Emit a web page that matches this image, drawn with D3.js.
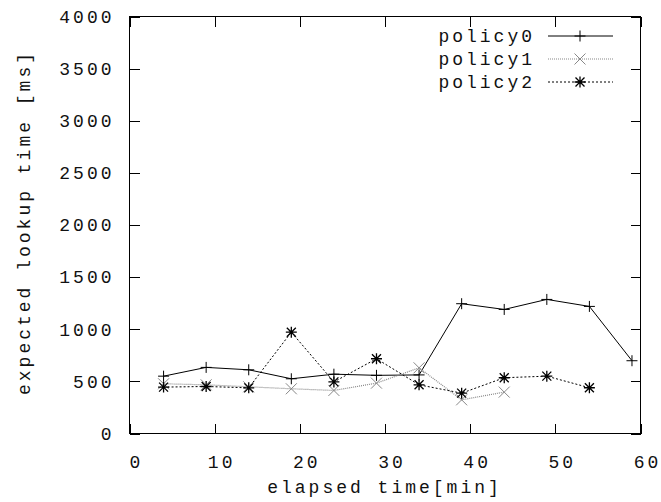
<!DOCTYPE html>
<html>
<head>
<meta charset="utf-8">
<script src="https://cdn.jsdelivr.net/npm/d3@7"></script>
<style>
html,body{margin:0;padding:0;background:#fff;}
svg text{font-family:"Liberation Mono",monospace;font-size:18px;letter-spacing:3px;fill:#111;}
</style>
</head>
<body>
<svg id="chart" width="661" height="502"></svg>
<script>
const xTicks = [0, 10, 20, 30, 40, 50, 60];
const yTicks = [0, 500, 1000, 1500, 2000, 2500, 3000, 3500, 4000];
const seriesNames = ["policy0", "policy1", "policy2"];
const x0 = [4, 9, 14, 19, 24, 29, 34, 39, 44, 49, 54, 59];
const y0 = [550, 634, 611, 525, 569, 558, 562, 1245, 1190, 1286, 1219, 698];
const x1 = [4, 9, 14, 19, 24, 29, 34, 39, 44];
const y1 = [477, 467, 448, 429, 413, 483, 630, 323, 397];
const x2 = [4, 9, 14, 19, 24, 29, 34, 39, 44, 49, 54];
const y2 = [445, 451, 438, 972, 495, 717, 467, 387, 535, 550, 439];
const xLabel = "elapsed time[min]";
const yLabel = "expected lookup time [ms]";

const LS = 3;
const svg = d3.select("#chart");
const L = 129.5, R = 640.5, T = 16.5, B = 433.5;
const x = d3.scaleLinear().domain([0, 60]).range([L, R]);
const y = d3.scaleLinear().domain([0, 4000]).range([B, T]);

// frame
svg.append("rect").attr("x", L).attr("y", T).attr("width", R - L).attr("height", B - T)
  .attr("fill", "none").attr("stroke", "#000").attr("stroke-width", 1);

// axes with inward ticks
const tl = 10;
svg.append("g").attr("class", "xb").attr("transform", `translate(0,${B})`)
  .call(d3.axisBottom(x).tickValues(xTicks).tickSize(-tl).tickPadding(tl + 12).tickFormat(d3.format("d")))
  .call(g => g.select(".domain").remove());
svg.append("g").attr("transform", `translate(0,${T})`)
  .call(d3.axisTop(x).tickValues(xTicks).tickSize(-tl).tickFormat(""))
  .call(g => g.select(".domain").remove());
svg.append("g").attr("class", "yl").attr("transform", `translate(${L},0)`)
  .call(d3.axisLeft(y).tickValues(yTicks).tickSize(-tl).tickPadding(tl + 5).tickFormat(d3.format("d")))
  .call(g => g.select(".domain").remove());
svg.append("g").attr("transform", `translate(${R},0)`)
  .call(d3.axisRight(y).tickValues(yTicks).tickSize(-tl).tickFormat(""))
  .call(g => g.select(".domain").remove());
svg.selectAll(".tick line").attr("stroke", "#000").attr("shape-rendering", "crispEdges");
svg.selectAll(".tick text").attr("font-family", null).attr("font-size", null).attr("fill", null);
svg.selectAll(".xb .tick text").attr("dx", 5 + LS / 2);

// axis titles
svg.append("text").attr("x", 383 + LS / 2).attr("y", 493).attr("text-anchor", "middle").text(xLabel);
svg.append("text").attr("transform", `translate(30,${221 + LS / 2}) rotate(-90)`).attr("text-anchor", "middle").text(yLabel);

// markers
function drawMarker(g, kind, cx, cy, color) {
  const s = 5.5;
  const p = g.append("path").attr("fill", "none").attr("stroke", color).attr("stroke-width", 1);
  if (kind === 0) p.attr("d", `M${cx - s},${cy}H${cx + s}M${cx},${cy - s}V${cy + s}`);
  else if (kind === 1) p.attr("d", `M${cx - s},${cy - s}L${cx + s},${cy + s}M${cx - s},${cy + s}L${cx + s},${cy - s}`);
  else p.attr("d", `M${cx - s},${cy}H${cx + s}M${cx},${cy - s}V${cy + s}M${cx - 4.5},${cy - 4.5}L${cx + 4.5},${cy + 4.5}M${cx - 4.5},${cy + 4.5}L${cx + 4.5},${cy - 4.5}`).attr("stroke-width", 1.3);
}

const series = [
  {xs: x0, ys: y0, color: "#000", dash: null, width: 1},
  {xs: x1, ys: y1, color: "#888", dash: "1,1", width: 1.2},
  {xs: x2, ys: y2, color: "#000", dash: "2,2", width: 1}
];
const line = d3.line().x(d => x(d[0])).y(d => y(d[1]));
series.forEach((s, i) => {
  const pts = s.xs.map((v, j) => [v, s.ys[j]]);
  const g = svg.append("g");
  g.append("path").attr("d", line(pts)).attr("fill", "none").attr("stroke", s.color)
    .attr("stroke-width", s.width).attr("stroke-dasharray", s.dash);
  pts.forEach(p => drawMarker(g, i, x(p[0]), y(p[1]), s.color));
});

// legend
seriesNames.forEach((name, i) => {
  const ly = 36 + i * 23;
  const s = series[i];
  svg.append("text").attr("x", 532 + LS).attr("y", ly).attr("dy", "0.35em").attr("text-anchor", "end").text(name);
  svg.append("line").attr("x1", 548).attr("x2", 613).attr("y1", ly).attr("y2", ly)
    .attr("stroke", s.color).attr("stroke-width", s.width).attr("stroke-dasharray", s.dash);
  drawMarker(svg, i, 580, ly, s.color);
});
</script>
</body>
</html>
